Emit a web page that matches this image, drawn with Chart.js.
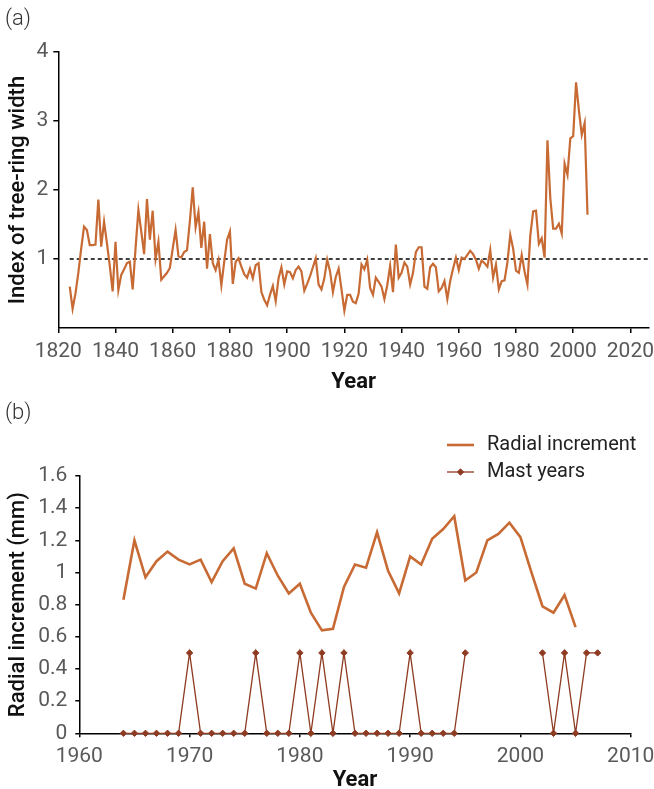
<!DOCTYPE html>
<html>
<head>
<meta charset="utf-8">
<title>Tree-ring index and radial increment</title>
<script src="https://cdn.jsdelivr.net/npm/chart.js@4.4.1/dist/chart.umd.min.js"></script>
<style>
  html, body { margin: 0; padding: 0; background: #fff; overflow: hidden; }
  #page { position: relative; width: 654px; height: 789px; }
  canvas { position: absolute; left: 0; }
  #ringCanvas { top: 0; }
  #incCanvas { top: 400px; }
  .panel-tag { position: absolute; left: 5px; z-index: 2; font: 300 22px Roboto, sans-serif; color: #333; }
</style>
</head>
<body>
<div id="page">
  <div class="panel-tag" style="top:5px">(a)</div>
  <canvas id="ringCanvas" width="654" height="400"></canvas>
  <div class="panel-tag" style="top:399px">(b)</div>
  <canvas id="incCanvas" width="654" height="395"></canvas>
</div>
<script>
// (a) tree-ring width index, one value per year from 1824
const ringStartYear = 1824;
const ringIndex = [
  0.60, 0.28, 0.50, 0.80, 1.15, 1.47,
  1.42, 1.20, 1.20, 1.21, 1.86, 1.18, 1.54, 1.23, 0.90, 0.53,
  1.25, 0.55, 0.77, 0.85, 0.94, 0.96, 0.56, 1.15, 1.71, 1.40,
  1.07, 1.87, 1.28, 1.70, 1.00, 1.25, 0.70, 0.75, 0.80, 0.87,
  1.15, 1.42, 1.04, 1.02, 1.10, 1.13, 1.55, 2.04, 1.46, 1.68,
  1.16, 1.54, 0.86, 1.36, 0.94, 0.84, 0.99, 0.62, 0.96, 1.28,
  1.40, 0.64, 0.96, 1.01, 0.89, 0.78, 0.73, 0.86, 0.72, 0.91,
  0.94, 0.52, 0.41, 0.33, 0.48, 0.61, 0.39, 0.72, 0.88, 0.63,
  0.82, 0.81, 0.72, 0.84, 0.89, 0.82, 0.54, 0.64, 0.75, 0.88,
  1.01, 0.63, 0.56, 0.72, 0.99, 0.82, 0.52, 0.74, 0.86, 0.56,
  0.25, 0.48, 0.48, 0.38, 0.36, 0.50, 0.92, 0.85, 0.99, 0.58,
  0.48, 0.73, 0.67, 0.60, 0.42, 0.62, 0.90, 0.52, 1.21, 0.73,
  0.80, 0.95, 0.89, 0.63, 0.80, 1.10, 1.17, 1.17, 0.60, 0.57,
  0.88, 0.93, 0.88, 0.53, 0.58, 0.68, 0.42, 0.68, 0.86, 1.02,
  0.84, 1.02, 1.00, 1.06, 1.12, 1.07, 0.99, 0.86, 0.98, 0.94,
  0.89, 1.13, 0.73, 0.92, 0.56, 0.68, 0.69, 0.95, 1.35, 1.15,
  0.83, 0.80, 1.06, 0.82, 0.63, 1.34, 1.69, 1.70, 1.22, 1.30,
  1.02, 2.72, 1.88, 1.44, 1.44, 1.51, 1.37, 2.38, 2.22, 2.75,
  2.78, 3.56, 3.15, 2.80, 2.97, 1.64
];
const ringMeanLevel = 1;
const ringMeanSpan = [1824, 2026.5];
const ringYearTicks = [1820, 1840, 1860, 1880, 1900, 1920, 1940, 1960, 1980, 2000, 2020];
const ringIndexTicks = [1, 2, 3, 4];

// (b) radial increment (mm) and mast years, one value per year from 1964
const incStartYear = 1964;
const radialIncrement = [
  0.83, 1.20, 0.97, 1.07, 1.13, 1.08,
  1.05, 1.08, 0.94, 1.07, 1.15, 0.93, 0.90, 1.12, 0.98, 0.87,
  0.93, 0.75, 0.64, 0.65, 0.91, 1.05, 1.03, 1.25, 1.01, 0.87,
  1.10, 1.05, 1.21, 1.27, 1.35, 0.95, 1.00, 1.20, 1.24, 1.31,
  1.22, 1.00, 0.79, 0.75, 0.86, 0.66
];
const mastYears = [
  0, 0, 0, 0, 0, 0,
  0.5, 0, 0, 0, 0, 0, 0.5, 0, 0, 0,
  0.5, 0, 0.5, 0, 0.5, 0, 0, 0, 0, 0,
  0.5, 0, 0, 0, 0, 0.5, null, null, null, null,
  null, null, 0.5, 0, 0.5, 0, 0.5, 0.5
];
const incYearTicks = [1960, 1970, 1980, 1990, 2000, 2010];
const incValueTicks = [0, 0.2, 0.4, 0.6, 0.8, 1, 1.2, 1.4, 1.6];

const ringColor = '#C76A34';
const mastColor = '#8E3B22';
const tickColor = '#595959';

Chart.defaults.font.family = "Roboto, 'DejaVu Sans', sans-serif";

const axisGrid = len => ({ drawOnChartArea: false, tickLength: len, color: '#000', lineWidth: 1.5 });
const axisBorder = { color: '#000', width: 1.5 };
const fixedTicks = list => scale => { scale.ticks = list.map(v => ({ value: v })); };
// keep the plot edges where the layout puts them, labels may overhang
const fixedHeight = h => scale => { scale.height = h; scale.paddingLeft = 0; scale.paddingRight = 0; };

// legend with one row per dataset, drawn above the plot at the right
const stackedLegend = {
  id: 'stackedLegend',
  afterDraw(chart, args, opts) {
    const ctx = chart.ctx;
    ctx.save();
    chart.data.datasets.forEach((ds, i) => {
      const y = opts.top + i * opts.rowGap;
      ctx.strokeStyle = ds.borderColor;
      ctx.lineWidth = ds.borderWidth;
      ctx.beginPath();
      ctx.moveTo(opts.left, y);
      ctx.lineTo(opts.left + opts.sample, y);
      ctx.stroke();
      if (ds.pointRadius > 0) {
        ctx.fillStyle = ds.backgroundColor;
        ctx.lineWidth = 1;
        Chart.helpers.drawPoint(ctx, { pointStyle: ds.pointStyle, radius: ds.pointRadius, borderWidth: 1, rotation: 0 },
          opts.left + opts.sample / 2, y);
      }
      ctx.fillStyle = '#222';
      ctx.font = "20px Roboto, 'DejaVu Sans', sans-serif";
      ctx.textBaseline = 'middle';
      ctx.textAlign = 'left';
      ctx.fillText(ds.label, opts.left + opts.sample + opts.gap, y);
    });
    ctx.restore();
  }
};

new Chart(document.getElementById('ringCanvas'), {
  type: 'line',
  data: {
    datasets: [
      {
        label: 'Index of tree-ring width',
        data: ringIndex.map((v, i) => ({ x: ringStartYear + i, y: v })),
        borderColor: ringColor,
        borderWidth: 2.2,
        pointRadius: 0,
        tension: 0,
        clip: false
      },
      {
        label: 'Mean',
        data: ringMeanSpan.map(x => ({ x: x, y: ringMeanLevel })),
        borderColor: '#000',
        borderWidth: 1.3,
        borderDash: [4, 3],
        pointRadius: 0
      }
    ]
  },
  options: {
    responsive: false,
    animation: false,
    devicePixelRatio: 1,
    events: [],
    layout: { padding: { top: 52, right: 5, left: 0, bottom: 0 } },
    plugins: { legend: { display: false }, tooltip: { enabled: false } },
    scales: {
      x: {
        type: 'linear',
        min: 1820,
        max: 2026.5,
        afterBuildTicks: fixedTicks(ringYearTicks),
        afterFit: fixedHeight(72),
        grid: axisGrid(5),
        border: axisBorder,
        ticks: { padding: 6, color: tickColor, font: { size: 21 }, autoSkip: false, maxRotation: 0, callback: v => String(v) },
        title: { display: true, text: 'Year', color: '#111', font: { size: 22, weight: 'bold' }, padding: { top: 0, bottom: 4 } }
      },
      y: {
        min: 0,
        max: 4,
        afterBuildTicks: fixedTicks(ringIndexTicks),
        afterFit: s => { s.width = 58.3; },
        grid: axisGrid(5),
        border: axisBorder,
        ticks: { padding: 5, color: tickColor, font: { size: 21 }, callback: v => String(v) },
        title: { display: true, text: 'Index of tree-ring width', color: '#111', font: { size: 22, weight: '500' }, padding: { top: 5, bottom: 0 } }
      }
    }
  }
});

new Chart(document.getElementById('incCanvas'), {
  type: 'line',
  data: {
    datasets: [
      {
        label: 'Radial increment',
        data: radialIncrement.map((v, i) => ({ x: incStartYear + i, y: v })),
        borderColor: ringColor,
        borderWidth: 2.6,
        pointRadius: 0,
        tension: 0,
        clip: false
      },
      {
        label: 'Mast years',
        data: mastYears.map((v, i) => ({ x: incStartYear + i, y: v })),
        borderColor: mastColor,
        backgroundColor: mastColor,
        borderWidth: 1.3,
        pointStyle: 'rectRot',
        pointRadius: 3.2,
        pointBorderWidth: 1,
        tension: 0,
        spanGaps: false,
        clip: false
      }
    ]
  },
  plugins: [stackedLegend],
  options: {
    responsive: false,
    animation: false,
    devicePixelRatio: 1,
    events: [],
    layout: { padding: { top: 76, right: 23.3, left: 0, bottom: 0 } },
    plugins: {
      legend: { display: false },
      tooltip: { enabled: false },
      stackedLegend: { left: 447, top: 45, rowGap: 27, sample: 27, gap: 13 }
    },
    scales: {
      x: {
        type: 'linear',
        min: 1960,
        max: 2010,
        afterBuildTicks: fixedTicks(incYearTicks),
        afterFit: fixedHeight(61.7),
        grid: axisGrid(4),
        border: axisBorder,
        ticks: { padding: 7, color: tickColor, font: { size: 21 }, autoSkip: false, maxRotation: 0, callback: v => String(v) },
        title: { display: true, text: 'Year', color: '#111', font: { size: 22, weight: 'bold' }, padding: { top: 0, bottom: 1 } }
      },
      y: {
        min: 0,
        max: 1.6,
        afterBuildTicks: fixedTicks(incValueTicks),
        afterFit: s => { s.width = 79.3; },
        grid: axisGrid(4),
        border: axisBorder,
        ticks: { padding: 8, color: tickColor, font: { size: 21 }, callback: v => String(v) },
        title: { display: true, text: 'Radial increment (mm)', color: '#111', font: { size: 22, weight: '500' }, padding: { top: 5, bottom: 0 } }
      }
    }
  }
});
</script>
</body>
</html>
